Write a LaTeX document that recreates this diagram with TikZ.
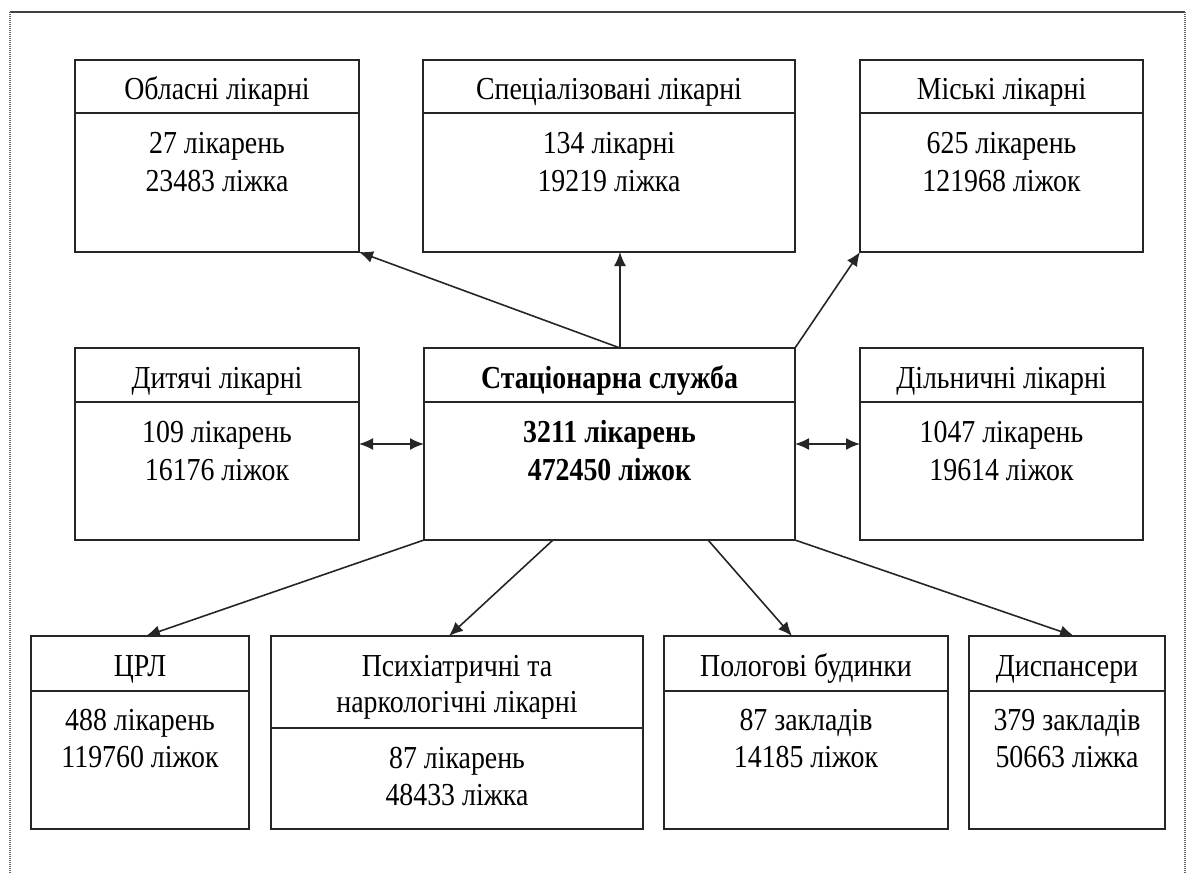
\documentclass[tikz,border=0pt]{standalone}
\usepackage{fontspec}
\setmainfont[FakeStretch=0.87]{Liberation Serif}
\usetikzlibrary{arrows.meta}
\tikzset{
  box/.style={draw=black!85, line width=2pt, inner sep=0pt, outer sep=0pt, rectangle},
  divline/.style={draw=black!85, line width=2pt},
  txt/.style={inner sep=0pt, outer sep=0pt, anchor=base, font=\fontsize{32}{37}\selectfont},
  btxt/.style={txt, font=\fontsize{32}{37}\selectfont\bfseries},
  conn/.style={draw=black!85, line width=1.6pt, -{Latex[length=14pt,width=12pt]}},
  biconn/.style={draw=black!85, line width=1.6pt, {Latex[length=14pt,width=12pt]}-{Latex[length=14pt,width=12pt]}},
  frametop/.style={draw=black!75, line width=2pt},
  frameside/.style={draw=black!60, line width=1.5pt, dash pattern=on 1pt off 1pt}
}
\begin{document}
\begin{tikzpicture}[x=1pt,y=-1pt]
\useasboundingbox (0,0) rectangle (1189,873);
% outer frame
\coordinate (ftl) at (10,12);
\coordinate (ftr) at (1185,12);
\coordinate (fbl) at (10,873);
\coordinate (fbr) at (1185,873);
\draw[frametop] (ftl) -- (ftr);
\draw[frameside] (ftl) -- (fbl);
\draw[frameside] (ftr) -- (fbr);

% top row
\node[box, minimum width=284pt, minimum height=192pt] (obl) at (217,156) {};
\node[box, minimum width=372pt, minimum height=192pt] (spec) at (609,156) {};
\node[box, minimum width=283pt, minimum height=192pt] (mis) at (1001.5,156) {};
% middle row
\node[box, minimum width=284pt, minimum height=192pt] (dyt) at (217,444) {};
\node[box, minimum width=371pt, minimum height=192pt] (cen) at (609.5,444) {};
\node[box, minimum width=283pt, minimum height=192pt] (dil) at (1001.5,444) {};
% bottom row
\node[box, minimum width=218pt, minimum height=193pt] (crl) at (140,732.5) {};
\node[box, minimum width=372pt, minimum height=193pt] (psy) at (457,732.5) {};
\node[box, minimum width=284pt, minimum height=193pt] (pol) at (806,732.5) {};
\node[box, minimum width=196pt, minimum height=193pt] (dis) at (1067,732.5) {};

% dividers
\foreach \n in {obl,spec,mis}{
  \draw[divline] ([yshift=-53pt]\n.north west) -- ([yshift=-53pt]\n.north east);
}
\foreach \n in {dyt,cen,dil}{
  \draw[divline] ([yshift=-54pt]\n.north west) -- ([yshift=-54pt]\n.north east);
}
\foreach \n in {crl,pol,dis}{
  \draw[divline] ([yshift=-55pt]\n.north west) -- ([yshift=-55pt]\n.north east);
}
\draw[divline] ([yshift=-92pt]psy.north west) -- ([yshift=-92pt]psy.north east);

% texts top row
\node[txt] (obl-h) at (217,99) {Обласні лікарні};
\node[txt] (obl-a) at (217,153) {27 лікарень};
\node[txt] (obl-b) at (217,191) {23483 ліжка};
\node[txt] (spec-h) at (609,99) {Спеціалізовані лікарні};
\node[txt] (spec-a) at (609,153) {134 лікарні};
\node[txt] (spec-b) at (609,191) {19219 ліжка};
\node[txt] (mis-h) at (1001.5,99) {Міські лікарні};
\node[txt] (mis-a) at (1001.5,153) {625 лікарень};
\node[txt] (mis-b) at (1001.5,191) {121968 ліжок};
% texts middle row
\node[txt] (dyt-h) at (217,388) {Дитячі лікарні};
\node[txt] (dyt-a) at (217,442) {109 лікарень};
\node[txt] (dyt-b) at (217,480) {16176 ліжок};
\node[btxt] (cen-h) at (609.5,388) {Стаціонарна служба};
\node[btxt] (cen-a) at (609.5,442) {3211 лікарень};
\node[btxt] (cen-b) at (609.5,480) {472450 ліжок};
\node[txt] (dil-h) at (1001.5,388) {Дільничні лікарні};
\node[txt] (dil-a) at (1001.5,442) {1047 лікарень};
\node[txt] (dil-b) at (1001.5,480) {19614 ліжок};
% texts bottom row
\node[txt] (crl-h) at (140,676) {ЦРЛ};
\node[txt] (crl-a) at (140,730) {488 лікарень};
\node[txt] (crl-b) at (140,767) {119760 ліжок};
\node[txt] (psy-h1) at (457,676) {Психіатричні та};
\node[txt] (psy-h2) at (457,712) {наркологічні лікарні};
\node[txt] (psy-a) at (457,768) {87 лікарень};
\node[txt] (psy-b) at (457,805) {48433 ліжка};
\node[txt] (pol-h) at (806,676) {Пологові будинки};
\node[txt] (pol-a) at (806,730) {87 закладів};
\node[txt] (pol-b) at (806,767) {14185 ліжок};
\node[txt] (dis-h) at (1067,676) {Диспансери};
\node[txt] (dis-a) at (1067,730) {379 закладів};
\node[txt] (dis-b) at (1067,767) {50663 ліжка};

% connectors
\draw[conn] ([xshift=196pt]cen.north west) -- (obl.south east);
\draw[conn] ([xshift=196pt]cen.north west) -- ([xshift=197pt]spec.south west);
\draw[conn] (cen.north east) -- (mis.south west);
\draw[biconn] (dyt.east) -- (cen.west);
\draw[biconn] (cen.east) -- (dil.west);
\draw[conn] (cen.south west) -- ([xshift=115pt]crl.north west);
\draw[conn] ([xshift=129pt]cen.south west) -- ([xshift=178pt]psy.north west);
\draw[conn] ([xshift=284pt]cen.south west) -- ([xshift=128pt]pol.north west);
\draw[conn] (cen.south east) -- ([xshift=105pt]dis.north west);
\end{tikzpicture}
\end{document}
